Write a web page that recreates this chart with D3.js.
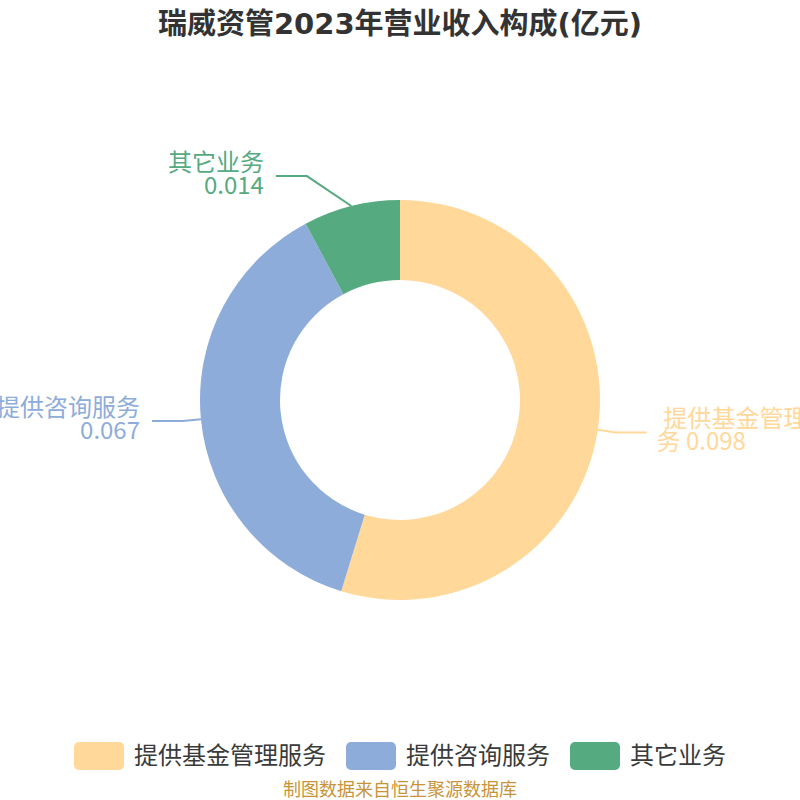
<!DOCTYPE html>
<html><head><meta charset="utf-8">
<script src="https://cdn.jsdelivr.net/npm/d3@7"></script>
<style>html,body{margin:0;padding:0;background:#fff}svg{display:block}</style>
</head><body>
<svg id="chart" width="800" height="800"></svg>
<script>
// ---- data ----
const categories = ["提供基金管理服务", "提供咨询服务", "其它业务"];
const values = [0.098, 0.067, 0.014];
const colors = ["#FFD89A", "#8EACDA", "#56AA7F"];
const titleText = "瑞威资管2023年营业收入构成(亿元)";
const sourceText = "制图数据来自恒生聚源数据库";
// label text lines (orange label wraps at the page edge)
const labelLines = [["提供基金管理服", "务 0.098"], ["提供咨询服务", "0.067"], ["其它业务", "0.014"]];

// ---- layout ----
const W = 800, H = 800, cx = 400, cy = 400, rOuter = 200, rInner = 120;
const elbowR = [218, 218, 242.5];
const elbowShiftDeg = [0, 0, -8.5];
const hLen = 31;
const font = "'Noto Sans CJK SC', 'Noto Sans', sans-serif";
const titleFont = "'DejaVu Sans', 'Noto Sans CJK SC', sans-serif";

const svg = d3.select("#chart");
svg.append("text").attr("x", W / 2).attr("y", 34).attr("text-anchor", "middle")
  .attr("font-family", titleFont).attr("font-weight", "bold").attr("font-size", 29)
  .attr("fill", "#333").text(titleText);

const data = categories.map((c, i) => ({ name: c, value: values[i], color: colors[i], i }));
const pie = d3.pie().value(d => d.value).sort(null);
const arcs = pie(data);
const arc = d3.arc().innerRadius(rInner).outerRadius(rOuter);

const g = svg.append("g").attr("transform", `translate(${cx},${cy})`);
g.selectAll("path.slice").data(arcs).enter().append("path")
  .attr("class", "slice").attr("d", arc).attr("fill", d => d.data.color);

// labels
const pt = (r, a) => [r * Math.sin(a), -r * Math.cos(a)];
arcs.forEach((a, i) => {
  const mid = (a.startAngle + a.endAngle) / 2;
  const p0 = pt(rOuter, mid);
  const p1 = pt(elbowR[i], mid + elbowShiftDeg[i] * Math.PI / 180);
  const right = p1[0] > 0;
  const p2 = [p1[0] + (right ? hLen : -hLen), p1[1]];
  g.append("polyline").attr("points", [p0, p1, p2].map(p => p.join(",")).join(" "))
    .attr("fill", "none").attr("stroke", a.data.color).attr("stroke-width", 2);
  const lines = labelLines[i];
  lines.forEach((t, k) => {
    let x;
    if (right) x = p2[0] + (k === 0 ? 17 : 10);
    else x = p2[0] - 12;
    g.append("text").attr("x", x).attr("y", p2[1] + (k === 0 ? -5 : 18))
      .attr("text-anchor", right ? "start" : "end")
      .attr("font-family", font).attr("font-size", 24)
      .attr("fill", a.data.color).text(t);
  });
});

// legend
const boxW = 50, boxH = 28, gap1 = 10, gap2 = 20, legFont = 24;
const leg = svg.append("g");
const items = data.map(d => {
  const t = leg.append("text").attr("font-family", font).attr("font-size", legFont)
    .attr("fill", "#3a3a3a").attr("y", 764).text(d.name);
  return { d, t, w: t.node().getComputedTextLength() };
});
const total = items.reduce((s, it) => s + boxW + gap1 + it.w, 0) + gap2 * (items.length - 1);
let x = (W - total) / 2;
items.forEach(it => {
  leg.append("rect").attr("x", x).attr("y", 742).attr("width", boxW).attr("height", boxH)
    .attr("rx", 5).attr("fill", it.d.color);
  it.t.attr("x", x + boxW + gap1);
  x += boxW + gap1 + it.w + gap2;
});

svg.append("text").attr("x", W / 2).attr("y", 796).attr("text-anchor", "middle")
  .attr("font-family", font).attr("font-size", 18).attr("fill", "#C8943A").text(sourceText);
</script>
</body></html>
